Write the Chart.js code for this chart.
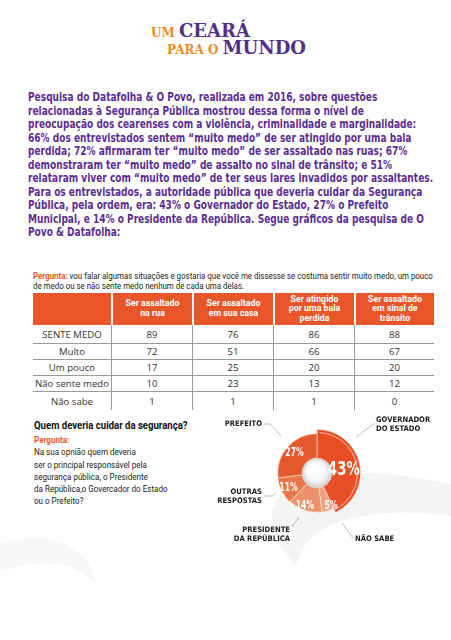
<!DOCTYPE html>
<html lang="pt-BR">
<head>
<meta charset="utf-8">
<title>Um Ceará para o Mundo</title>
<script src="https://cdn.jsdelivr.net/npm/chart.js@4.4.1/dist/chart.umd.min.js"></script>
<style>
  html, body { margin: 0; padding: 0; }
  body { width: 451px; height: 640px; position: relative; overflow: hidden; background: #fff; font-family: Roboto, "Open Sans", sans-serif; }
  .swoosh { position: absolute; border-radius: 50%; }
  .title { position: absolute; font-family: "DejaVu Serif", serif; font-weight: bold; white-space: nowrap; line-height: 1; }
  .title .o { color: #ef8c22; font-size: 12px; }
  .title .p { color: #533088; font-size: 18px; }
  .fit { transform-origin: 0 0; }
  #intro { position: absolute; left: 28px; top: 91px; font-family: "DejaVu Sans Condensed", "DejaVu Sans", sans-serif; font-weight: bold; font-size: 12.3px; line-height: 13.5px; color: #5b2e90; white-space: nowrap; }
  #q1 { position: absolute; left: 33px; top: 271px; font-size: 9.8px; line-height: 10px; color: #222; white-space: nowrap; }
  .or { color: #e8562a; font-weight: bold; }
  #tbl { position: absolute; left: 33px; top: 293px; border-collapse: separate; border-spacing: 0; }
  #tbl th { background: #e8562a; color: #fff; font-size: 8.8px; line-height: 9.6px; font-weight: bold; height: 32px; padding: 0; text-align: center; border-left: 2px solid #fff; }
  #tbl th:first-child { border-left: 0; }
  #tbl td { font-family: "Open Sans", sans-serif; font-size: 9.6px; color: #333; text-align: center; height: 15px; padding: 0; border-bottom: 1px solid #9a9a9a; border-left: 1px solid #9a9a9a; }
  #tbl td:first-child { border-left: 0; }
  #tbl tr:nth-child(2) td { height: 18px; }
  #tbl tr:last-child td { border-bottom: 0; height: 18px; }
  #q2title { position: absolute; left: 34px; top: 419px; font-weight: bold; font-size: 11.2px; color: #111; white-space: nowrap; }
  #q2 { position: absolute; left: 34px; top: 434px; font-size: 9.8px; line-height: 12.3px; color: #222; white-space: nowrap; }
  #donut { position: absolute; left: 200px; top: 408px; }
</style>
</head>
<body>
<div class="swoosh" style="left:260px; top:500px; width:460px; height:170px; transform: rotate(20deg); background:#f4f4f5;"></div>
<div class="swoosh" style="left:285px; top:535px; width:460px; height:200px; transform: rotate(20deg); background:#fff;"></div>
<div class="swoosh" style="left:-150px; top:560px; width:260px; height:150px; transform: rotate(-35deg); background:#f7f7f8;"></div>
<div class="swoosh" style="left:-140px; top:585px; width:260px; height:150px; transform: rotate(-35deg); background:#fff;"></div>

<div class="title" style="left:151px; top:22px;"><span class="o">UM </span><span class="p">CEARÁ</span></div>
<div class="title" style="left:167px; top:39px;"><span class="o">PARA O </span><span class="p">MUNDO</span></div>

<div id="intro" class="fit">Pesquisa do Datafolha &amp; O Povo, realizada em 2016, sobre questões<br>relacionadas à Segurança Pública mostrou dessa forma o nível de<br>preocupação dos cearenses com a violência, criminalidade e marginalidade:<br>66% dos entrevistados sentem “muito medo” de ser atingido por uma bala<br>perdida; 72% afirmaram ter “muito medo” de ser assaltado nas ruas; 67%<br>demonstraram ter “muito medo” de assalto no sinal de trânsito; e 51%<br>relataram viver com “muito medo” de ter seus lares invadidos por assaltantes.<br>Para os entrevistados, a autoridade pública que deveria cuidar da Segurança<br>Pública, pela ordem, era: 43% o Governador do Estado, 27% o Prefeito<br>Municipal, e 14% o Presidente da República. Segue gráficos da pesquisa de O<br>Povo &amp; Datafolha:</div>

<div id="q1" class="fit"><span class="or">Pergunta:</span> vou falar algumas situações e gostaria que você me dissesse se costuma sentir muito medo, um pouco<br>de medo ou se não sente medo nenhum de cada uma delas.</div>
<table id="tbl"></table>

<div id="q2title" class="fit">Quem deveria cuidar da segurança?</div>
<div id="q2" class="fit"><span class="or">Pergunta:</span><br>Na sua opnião quem deveria<br>ser o principal responsável pela<br>segurança pública, o Presidente<br>da República,o Govercador do Estado<br>ou o Prefeito?</div>

<canvas id="donut" width="240" height="145"></canvas>

<script>
// table: fear of situations (%)
const situations = ['Ser assaltado\nna rua', 'Ser assaltado\nem sua casa', 'Ser atingido\npor uma bala\nperdida', 'Ser assaltado\nem sinal de\ntrânsito'];
const answers = ['SENTE MEDO', 'Multo', 'Um pouco', 'Não sente medo', 'Não sabe'];
const naRua = [89, 72, 17, 10, 1];
const emCasa = [76, 51, 25, 23, 1];
const balaPerdida = [86, 66, 20, 13, 1];
const sinalTransito = [88, 67, 20, 12, 0];

// donut: who should take care of security (%)
const authorities = ['GOVERNADOR\nDO ESTADO', 'NÃO SABE', 'PRESIDENTE\nDA REPÚBLICA', 'OUTRAS\nRESPOSTAS', 'PREFEITO'];
const shares = [43, 5, 14, 11, 27];

// squeeze a nowrap block horizontally so its widest line matches the original
function fitWidth(el, target) {
  el.style.transform = 'scaleX(' + (target / el.scrollWidth) + ')';
}
fitWidth(document.getElementById('intro'), 405);
fitWidth(document.getElementById('q1'), 400);
fitWidth(document.getElementById('q2title'), 154);
fitWidth(document.getElementById('q2'), 134);

// build the table
const tbl = document.getElementById('tbl');
const colW = [78, 79, 79, 79, 78];
let head = '<tr><th style="width:' + colW[0] + 'px"></th>';
situations.forEach((s, i) => {
  head += '<th style="width:' + colW[i + 1] + 'px">' + s.replace(/\n/g, '<br>') + '</th>';
});
head += '</tr>';
let body = '';
const columns = [naRua, emCasa, balaPerdida, sinalTransito];
answers.forEach((a, r) => {
  body += '<tr><td>' + a + '</td>';
  columns.forEach(col => { body += '<td>' + col[r] + '</td>'; });
  body += '</tr>';
});
tbl.innerHTML = head + body;

// slice looks
const sliceColors = ['#e84f27', '#f0a283', '#eb916b', '#e7784b', '#e35a2e'];
const radiusScale = [1, 0.9, 0.9, 0.91, 0.9];
// nudges for the % labels: [angle shift (rad), radius]
const labelSpot = [[0.1, 27], [-0.12, 36], [0.04, 35], [0, 32], [0, 30]];
// callout lines (canvas px) and label anchor
const callouts = [
  { line: [[175, 15], [156, 29]], x: 176, y: 12, align: 'left' },
  { line: [[153, 130], [142, 115]], x: 155, y: 131, align: 'left' },
  { line: [[92, 119], [99, 109]], x: 90, y: 122, align: 'right' },
  { line: [[64, 88], [72, 88], [76, 85]], x: 62, y: 84, align: 'right' },
  { line: [[64, 16], [70, 16], [81, 28]], x: 62, y: 16, align: 'right' }
];

function squeezeText(ctx, text, x, y, sx) {
  ctx.save();
  ctx.translate(x, y);
  ctx.scale(sx, 1);
  ctx.fillText(text, 0, 0);
  ctx.restore();
}

const donutPlugin = {
  id: 'donutLook',
  beforeDatasetDraw(chart, args) {
    const ctrl = args.meta.controller;
    args.meta.data.forEach((arc, i) => {
      arc.outerRadius = ctrl.outerRadius * radiusScale[i];
    });
  },
  afterDatasetDraw(chart, args) {
    const ctx = chart.ctx;
    const arcs = args.meta.data;
    const cx = arcs[0].x, cy = arcs[0].y;
    const inner = arcs[0].innerRadius;
    // hole shading
    const g = ctx.createRadialGradient(cx - 3, cy - 4, 2, cx, cy, inner);
    g.addColorStop(0, '#ffffff');
    g.addColorStop(0.65, '#f5f5f5');
    g.addColorStop(1, '#cdcdcd');
    ctx.save();
    ctx.beginPath();
    ctx.arc(cx, cy, inner, 0, Math.PI * 2);
    ctx.fillStyle = g;
    ctx.fill();
    // light rim on the biggest slice
    const big = arcs[0];
    ctx.beginPath();
    ctx.arc(cx, cy, big.outerRadius - 3, big.startAngle + 0.06, big.endAngle);
    ctx.strokeStyle = 'rgba(255,255,255,0.75)';
    ctx.lineWidth = 0.8;
    ctx.stroke();
    // percentages
    ctx.fillStyle = '#fff';
    ctx.textAlign = 'center';
    ctx.textBaseline = 'middle';
    arcs.forEach((arc, i) => {
      const mid = (arc.startAngle + arc.endAngle) / 2 + labelSpot[i][0];
      const r = labelSpot[i][1];
      ctx.font = 'bold ' + (i === 0 ? 20 : 11.5) + 'px "DejaVu Sans Condensed", sans-serif';
      squeezeText(ctx, shares[i] + '%', cx + Math.cos(mid) * r, cy + Math.sin(mid) * r, 0.74);
    });
    // callouts
    ctx.strokeStyle = '#b9a9a0';
    ctx.lineWidth = 0.8;
    ctx.fillStyle = '#1a1a1a';
    ctx.font = 'bold 7.6px "DejaVu Sans Condensed", sans-serif';
    ctx.textBaseline = 'middle';
    callouts.forEach((c, i) => {
      ctx.beginPath();
      c.line.forEach((p, k) => { if (k === 0) ctx.moveTo(p[0], p[1]); else ctx.lineTo(p[0], p[1]); });
      ctx.stroke();
      ctx.textAlign = c.align;
      authorities[i].split('\n').forEach((t, k) => {
        ctx.fillText(t, c.x, c.y + k * 9.5);
      });
    });
    ctx.restore();
  }
};

new Chart(document.getElementById('donut'), {
  type: 'doughnut',
  data: {
    labels: authorities.map(a => a.replace('\n', ' ')),
    datasets: [{
      data: shares,
      backgroundColor: sliceColors,
      borderColor: 'rgba(255,235,225,0.7)',
      borderWidth: 0.8
    }]
  },
  options: {
    responsive: false,
    animation: false,
    cutout: '34%',
    layout: { padding: { left: 73, top: 21, right: 79, bottom: 36 } },
    plugins: { legend: { display: false }, tooltip: { enabled: false } }
  },
  plugins: [donutPlugin]
});
</script>
</body>
</html>
